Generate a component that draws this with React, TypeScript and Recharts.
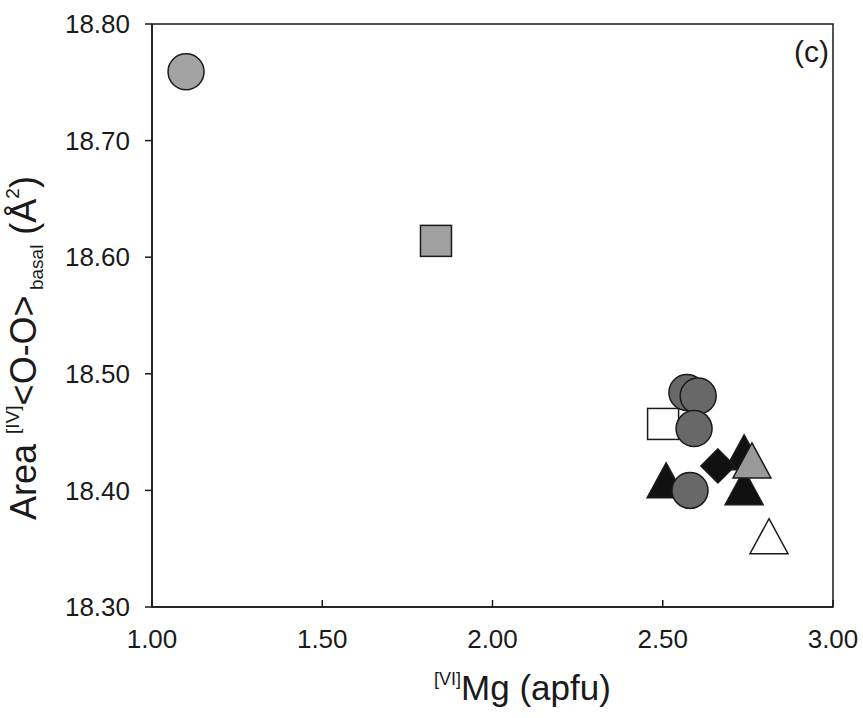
import React from "react";
import { ScatterChart, Scatter, XAxis, YAxis, ReferenceArea, Label } from "recharts";

const xTicks = [1.0, 1.5, 2.0, 2.5, 3.0];
const yTicks = [18.3, 18.4, 18.5, 18.6, 18.7, 18.8];

// one list per marker style
const lightCircle = [{ x: 1.1, y: 18.759 }];
const graySquare = [{ x: 1.834, y: 18.614 }];
const whiteSquare = [{ x: 2.501, y: 18.457 }];
const darkCircles = [
  { x: 2.571, y: 18.484 },
  { x: 2.604, y: 18.481 },
  { x: 2.592, y: 18.453 },
  { x: 2.58, y: 18.4 },
];
const blackTriangles = [
  { x: 2.51, y: 18.404 },
  { x: 2.739, y: 18.428 },
  { x: 2.739, y: 18.398 },
];
const blackDiamond = [{ x: 2.662, y: 18.421 }];
const grayTriangle = [{ x: 2.762, y: 18.421 }];
const whiteTriangle = [{ x: 2.812, y: 18.356 }];

const ink = "#1a1a1a";
const font = "'Liberation Sans', Arial, sans-serif";

const marker = (kind: string, fill: string) => (props: any) => {
  const { cx, cy } = props;
  const common = { fill, stroke: ink, strokeWidth: 1.5 };
  if (kind === "circle") return <circle cx={cx} cy={cy} r={18} {...common} />;
  if (kind === "square")
    return <rect x={cx - 15.5} y={cy - 15.5} width={31} height={31} {...common} />;
  if (kind === "diamond")
    return (
      <polygon
        points={`${cx},${cy - 17} ${cx + 17},${cy} ${cx},${cy + 17} ${cx - 17},${cy}`}
        {...common}
      />
    );
  return (
    <polygon
      points={`${cx},${cy - 23} ${cx + 19},${cy + 12} ${cx - 19},${cy + 12}`}
      {...common}
    />
  );
};

const YTitle = () => (
  <text
    transform="translate(36, 348) rotate(-90)"
    textAnchor="middle"
    fontSize={36}
    fill={ink}
    fontFamily={font}
  >
    <tspan>Area </tspan>
    <tspan fontSize={19} dy={-17}>[IV]</tspan>
    <tspan dy={17}>&lt;O-O&gt;</tspan>
    <tspan fontSize={19} dy={7}> basal</tspan>
    <tspan dy={-7}> (Å</tspan>
    <tspan fontSize={19} dy={-17}>2</tspan>
    <tspan dy={17}>)</tspan>
  </text>
);

const XTitle = (props: any) => {
  const { viewBox } = props;
  return (
    <text
      x={viewBox.x + viewBox.width / 2 + 30}
      y={700}
      textAnchor="middle"
      fontSize={35}
      fill={ink}
      fontFamily={font}
    >
      <tspan fontSize={18} dy={-15}>[VI]</tspan>
      <tspan dy={15}>Mg (apfu)</tspan>
    </text>
  );
};

const PanelTag = (props: any) => {
  const { viewBox } = props;
  return (
    <text
      x={viewBox.x + viewBox.width - 4}
      y={viewBox.y + 38}
      textAnchor="end"
      fontSize={30}
      fill={ink}
      fontFamily={font}
    >
      (c)
    </text>
  );
};

export default function App() {
  return (
    <div
      style={{
        position: "absolute",
        left: 0,
        top: 0,
        width: 863,
        height: 718,
        background: "#fff",
        fontFamily: font,
      }}
    >
      <ScatterChart width={863} height={718} margin={{ top: 24, right: 30, bottom: 0, left: 0 }}>
        <XAxis
          type="number"
          dataKey="x"
          domain={[1, 3]}
          ticks={xTicks}
          interval={0}
          tickFormatter={(v: number) => v.toFixed(2)}
          axisLine={{ stroke: ink, strokeWidth: 1.5 }}
          tickLine={{ stroke: ink, strokeWidth: 1.5 }}
          tickSize={-7}
          tickMargin={30}
          tick={{ fill: ink, fontSize: 26, fontFamily: font }}
          height={111}
        >
          <Label content={XTitle} />
        </XAxis>
        <YAxis
          type="number"
          dataKey="y"
          domain={[18.3, 18.8]}
          ticks={yTicks}
          interval={0}
          allowDataOverflow
          tickFormatter={(v: number) => v.toFixed(2)}
          axisLine={{ stroke: ink, strokeWidth: 1.5 }}
          tickLine={{ stroke: ink, strokeWidth: 1.5 }}
          tickSize={7}
          tickMargin={15}
          tick={{ fill: ink, fontSize: 26, fontFamily: font }}
          width={152}
        >
          <Label content={YTitle} />
        </YAxis>
        <ReferenceArea
          x1={1}
          x2={3}
          y1={18.3}
          y2={18.8}
          fill="none"
          stroke={ink}
          strokeWidth={1.5}
          label={<PanelTag />}
        />
        <Scatter data={whiteSquare} shape={marker("square", "#ffffff")} isAnimationActive={false} />
        <Scatter data={blackTriangles} shape={marker("triangle", "#111111")} isAnimationActive={false} />
        <Scatter data={whiteTriangle} shape={marker("triangle", "#ffffff")} isAnimationActive={false} />
        <Scatter data={blackDiamond} shape={marker("diamond", "#111111")} isAnimationActive={false} />
        <Scatter data={darkCircles} shape={marker("circle", "#686868")} isAnimationActive={false} />
        <Scatter data={grayTriangle} shape={marker("triangle", "#999999")} isAnimationActive={false} />
        <Scatter data={lightCircle} shape={marker("circle", "#a3a3a3")} isAnimationActive={false} />
        <Scatter data={graySquare} shape={marker("square", "#a0a0a0")} isAnimationActive={false} />
      </ScatterChart>
    </div>
  );
}
